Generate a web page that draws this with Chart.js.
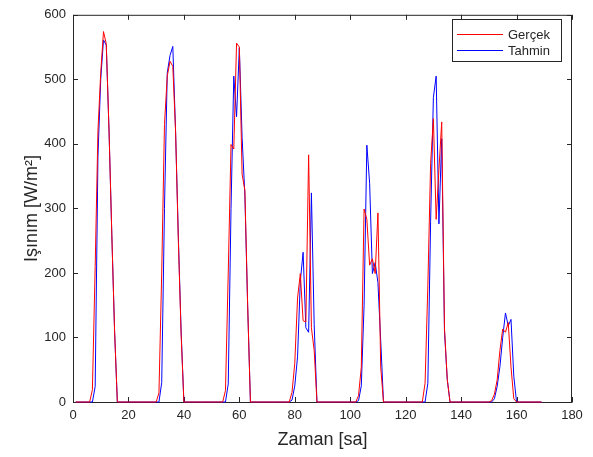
<!DOCTYPE html>
<html>
<head>
<meta charset="utf-8">
<script src="https://cdn.jsdelivr.net/npm/chart.js@4.4.0/dist/chart.umd.min.js"></script>
<style>
  html, body { margin: 0; padding: 0; background: #fff; }
  #wrap { width: 593px; height: 457px; }
</style>
</head>
<body>
<div id="wrap"><canvas id="irrChart" width="593" height="457"></canvas></div>
<script>
// hourly samples 1..169, one row per day
const hours = Array.from({ length: 169 }, (_, i) => i + 1);

const gercek = [
  0, 0, 0, 0, 0, 0, 19, 210, 420, 510, 574, 555, 420, 260, 110, 0, 0, 0, 0, 0, 0, 0, 0, 0,
  0, 0, 0, 0, 0, 0, 14, 200, 430, 505, 528, 520, 420, 250, 105, 0, 0, 0, 0, 0, 0, 0, 0, 0,
  0, 0, 0, 0, 0, 0, 18, 200, 399, 392, 556, 550, 353, 328, 150, 0, 0, 0, 0, 0, 0, 0, 0, 0,
  0, 0, 0, 0, 0, 0, 15, 60, 161, 199, 126, 124, 383, 115, 80, 0, 0, 0, 0, 0, 0, 0, 0, 0,
  0, 0, 0, 0, 0, 0, 10, 54, 299, 283, 212, 222, 199, 293, 54, 0, 0, 0, 0, 0, 0, 0, 0, 0,
  0, 0, 0, 0, 0, 0, 29, 180, 370, 439, 283, 360, 434, 115, 35, 0, 0, 0, 0, 0, 0, 0, 0, 0,
  0, 0, 0, 0, 0, 0, 2, 12, 34, 80, 113, 108, 123, 54, 5, 0, 0, 0, 0, 0, 0, 0, 0, 0,
  0
];

const tahmin = [
  0, 0, 0, 0, 0, 0, 0, 24, 380, 500, 561, 553, 420, 260, 110, 0, 0, 0, 0, 0, 0, 0, 0, 0,
  0, 0, 0, 0, 0, 0, 0, 30, 300, 510, 537, 551, 420, 255, 110, 0, 0, 0, 0, 0, 0, 0, 0, 0,
  0, 0, 0, 0, 0, 0, 0, 28, 300, 505, 442, 549, 410, 320, 150, 0, 0, 0, 0, 0, 0, 0, 0, 0,
  0, 0, 0, 0, 0, 0, 3, 25, 70, 187, 232, 115, 108, 324, 120, 0, 0, 0, 0, 0, 0, 0, 0, 0,
  0, 0, 0, 0, 0, 0, 2, 25, 150, 398, 339, 199, 216, 185, 95, 0, 0, 0, 0, 0, 0, 0, 0, 0,
  0, 0, 0, 0, 0, 0, 0, 29, 280, 472, 505, 276, 408, 110, 35, 0, 0, 0, 0, 0, 0, 0, 0, 0,
  0, 0, 0, 0, 0, 0, 0, 5, 24, 55, 100, 138, 118, 128, 40, 0, 0, 0, 0, 0, 0, 0, 0, 0,
  0
];

const xTicks = [0, 20, 40, 60, 80, 100, 120, 140, 160, 180];
const yTicks = [0, 100, 200, 300, 400, 500, 600];

const axisColor = '#262626';
const fontFamily = '"Liberation Sans", Arial, sans-serif';

const toPoints = vals => hours.map((h, i) => ({ x: h, y: vals[i] }));

// matlab style box with inward ticks
const frameAndTicks = {
  id: 'frameAndTicks',
  beforeDatasetsDraw(chart) {
    const { ctx, chartArea: a, scales: { x, y } } = chart;
    const len = 5;
    ctx.save();
    ctx.strokeStyle = axisColor;
    ctx.lineWidth = 1;
    ctx.beginPath();
    ctx.rect(a.left + 0.5, a.top + 0.5, a.right - a.left - 1, a.bottom - a.top);
    xTicks.forEach(v => {
      const px = Math.round(x.getPixelForValue(v)) + 0.5;
      ctx.moveTo(px, a.bottom + 0.5);
      ctx.lineTo(px, a.bottom - len);
      ctx.moveTo(px, a.top);
      ctx.lineTo(px, a.top + len);
    });
    yTicks.forEach(v => {
      const py = Math.round(y.getPixelForValue(v)) + 0.5;
      ctx.moveTo(a.left, py);
      ctx.lineTo(a.left + len, py);
      ctx.moveTo(a.right, py);
      ctx.lineTo(a.right - len, py);
    });
    ctx.stroke();
    ctx.restore();
  }
};

// legend box in the upper right corner
const boxLegend = {
  id: 'boxLegend',
  afterDraw(chart) {
    const { ctx } = chart;
    const bx = 452.5, by = 19.5, bw = 109, bh = 42;
    ctx.save();
    ctx.fillStyle = '#fff';
    ctx.fillRect(bx, by, bw, bh);
    ctx.strokeStyle = axisColor;
    ctx.lineWidth = 1;
    ctx.strokeRect(bx, by, bw, bh);
    ctx.font = '13px ' + fontFamily;
    ctx.textBaseline = 'middle';
    chart.data.datasets.forEach((ds, i) => {
      const ly = 34.5 + i * 16;
      ctx.strokeStyle = ds.borderColor;
      ctx.beginPath();
      ctx.moveTo(457, ly);
      ctx.lineTo(503, ly);
      ctx.stroke();
      ctx.fillStyle = axisColor;
      ctx.fillText(ds.label, 508, ly + 0.5);
    });
    ctx.restore();
  }
};

const ctx = document.getElementById('irrChart').getContext('2d');
new Chart(ctx, {
  type: 'line',
  data: {
    datasets: [
      { label: 'Gerçek', data: toPoints(gercek), borderColor: '#ff0000', borderWidth: 1, pointRadius: 0, tension: 0, clip: false },
      { label: 'Tahmin', data: toPoints(tahmin), borderColor: '#0000ff', borderWidth: 1, pointRadius: 0, tension: 0, clip: false }
    ]
  },
  options: {
    responsive: false,
    animation: false,
    devicePixelRatio: 1,
    layout: { padding: { left: 0, right: 21, top: 9, bottom: 0 } },
    plugins: {
      legend: { display: false },
      tooltip: { enabled: false }
    },
    scales: {
      x: {
        type: 'linear',
        min: 0,
        max: 180,
        afterBuildTicks: s => { s.ticks = xTicks.map(v => ({ value: v })); },
        afterFit: s => { s.height = 55; },
        grid: { display: false, drawTicks: false },
        border: { display: false },
        ticks: { color: axisColor, padding: 6, maxRotation: 0, font: { family: fontFamily, size: 13 } },
        title: {
          display: true,
          text: 'Zaman [sa]',
          color: axisColor,
          font: { family: fontFamily, size: 18 },
          padding: { top: 0, bottom: 6 }
        }
      },
      y: {
        type: 'linear',
        min: 0,
        max: 600,
        afterBuildTicks: s => { s.ticks = yTicks.map(v => ({ value: v })); },
        afterFit: s => { s.width = 73; },
        grid: { display: false, drawTicks: false },
        border: { display: false },
        ticks: { color: axisColor, padding: 7, font: { family: fontFamily, size: 13 } },
        title: {
          display: true,
          text: 'Işınım [W/m²]',
          color: axisColor,
          font: { family: fontFamily, size: 18 },
          padding: { top: 21, bottom: 0 }
        }
      }
    }
  },
  plugins: [frameAndTicks, boxLegend]
});
</script>
</body>
</html>
